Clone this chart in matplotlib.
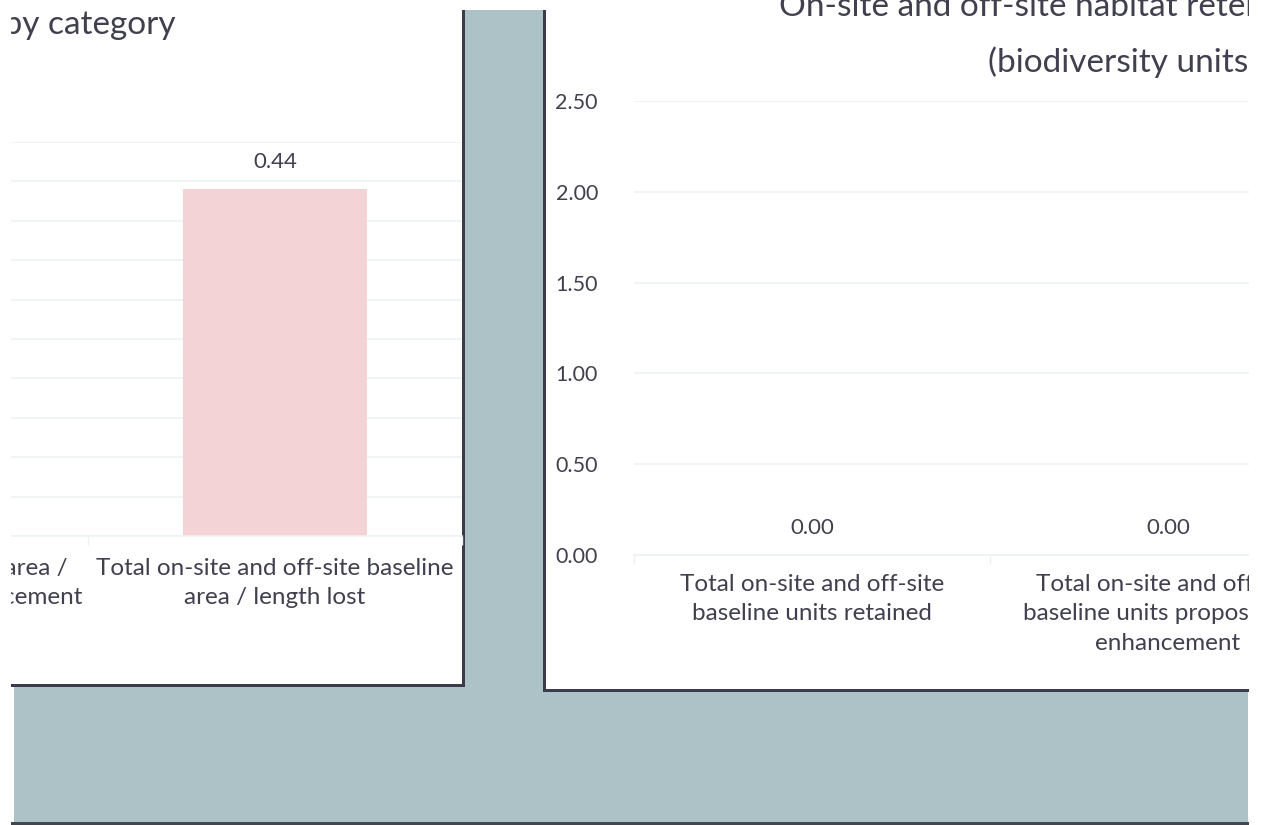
import numpy as np
import matplotlib
matplotlib.use('Agg')
import matplotlib.pyplot as plt
from matplotlib.patches import Rectangle
from matplotlib.ticker import FixedLocator

plt.rcParams['font.family'] = ['Lato', 'DejaVu Sans']

# ---- 数据 ----
left_title = 'Baseline habitat area / length by category'
left_categories = ['Total on-site and off-site area /\nlength proposed for enhancement',
                   'Total on-site and off-site baseline\narea / length lost']
left_values = [0.00, 0.44]
left_yticks = [0.00, 0.05, 0.10, 0.15, 0.20, 0.25, 0.30, 0.35, 0.40, 0.45, 0.50]

right_title_1 = 'On-site and off-site habitat retention and gains'
right_title_2 = '(biodiversity units)'
right_categories = ['Total on-site and off-site\nbaseline units retained',
                    'Total on-site and off-site\nbaseline units proposed for\nenhancement']
right_values = [0.00, 0.00]
right_yticks = [0.00, 0.50, 1.00, 1.50, 2.00, 2.50]

# ---- 颜色 ----
BG = '#ADC2C7'
BORDER = '#3B3B4B'
TEXT = '#40404F'
GRID = '#EDF2F2'
BAR = '#F4D3D6'

W, H = 1267, 825
fig = plt.figure(figsize=(W / 100, H / 100), dpi=100)


def box(x0, y0, x1, y1, color, z):
    # 像素坐标(左上为原点)画矩形
    fig.add_artist(Rectangle((x0 / W, 1 - y1 / H), (x1 - x0) / W, (y1 - y0) / H,
                             transform=fig.transFigure, facecolor=color,
                             edgecolor='none', zorder=z))


def axes_px(x0, y0, x1, y1):
    return fig.add_axes([x0 / W, 1 - y1 / H, (x1 - x0) / W, (y1 - y0) / H])


# 背景与面板
box(14, 10, 1248, 822, BG, -10)
box(11, 822, 1249, 825, '#45454F', -9)
box(0, 0, 462, 684, 'white', -8)
box(462, 10, 464.5, 686.5, BORDER, -7)
box(11, 684, 464.5, 686.5, BORDER, -7)
box(545, 0, 1249, 689, 'white', -8)
box(543, 10, 545.5, 691.5, BORDER, -7)
box(543, 689, 1249, 691.5, BORDER, -7)


def style_axes(ax, cats, values, yticks, fmt, bar_width, pad):
    x = np.arange(len(cats))
    ax.set_facecolor('none')
    ax.bar(x, values, width=bar_width, color=BAR, zorder=2)
    for xi, v in zip(x, values):
        ax.annotate(f'{v:.2f}', (xi, v), xytext=(0, 19.5), textcoords='offset points',
                    ha='center', va='center', fontsize=16, color=TEXT)
    ax.set_xlim(-0.5, len(cats) - 0.5)
    ax.set_ylim(yticks[0], yticks[-1])
    ax.set_yticks(yticks)
    ax.set_yticklabels([fmt % t for t in yticks])
    ax.set_xticks(x)
    ax.set_xticklabels(cats, linespacing=1.5)
    ax.xaxis.set_minor_locator(FixedLocator(np.arange(len(cats) + 1) - 0.5))
    ax.tick_params(axis='x', which='major', length=0, pad=pad, labelsize=17.5, labelcolor=TEXT)
    ax.tick_params(axis='x', which='minor', length=6.5, width=1, color=GRID)
    ax.tick_params(axis='y', length=0, pad=26, labelsize=15.5, labelcolor=TEXT)
    ax.grid(axis='y', color=GRID, linewidth=1.2, zorder=0)
    ax.set_axisbelow(True)
    for s in ['top', 'right', 'left']:
        ax.spines[s].set_visible(False)
    ax.spines['bottom'].set_color(GRID)
    ax.spines['bottom'].set_linewidth(1.2)


# 左图
ax1 = axes_px(462 - 748, 142, 462, 536)
style_axes(ax1, left_categories, left_values, left_yticks, '%.2f', 0.49, 15.5)
fig.text(176 / W, 1 - 25 / H, left_title, ha='right', va='center',
         fontsize=24, color=TEXT)

# 右图
ax2 = axes_px(634, 101, 634 + 712, 555)
style_axes(ax2, right_categories, right_values, right_yticks, '%.2f', 0.49, 13.5)
fig.text(1123 / W, 1 - 7 / H, right_title_1, ha='center', va='center',
         fontsize=24, color=TEXT)
fig.text(1123 / W, 1 - 62 / H, right_title_2, ha='center', va='center',
         fontsize=24, color=TEXT)

# 页面两侧留白
box(0, 0, 11, 825, 'white', 20)
box(1249, 0, 1267, 825, 'white', 20)

fig.savefig('out.png', dpi=100)
